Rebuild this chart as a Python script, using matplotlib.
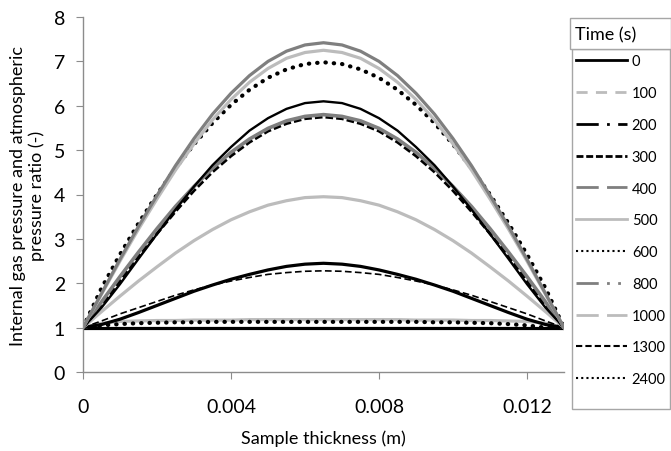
import numpy as np
import matplotlib
matplotlib.use("Agg")
import matplotlib.pyplot as plt
from matplotlib.lines import Line2D
from matplotlib.patches import Rectangle

plt.rcParams['font.family'] = ['Lato', 'DejaVu Sans']

# sample thickness (m)
thickness = [0.0, 0.0005, 0.001, 0.0015, 0.002, 0.0025, 0.003, 0.0035, 0.004,
             0.0045, 0.005, 0.0055, 0.006, 0.0065, 0.007, 0.0075, 0.008, 0.0085,
             0.009, 0.0095, 0.01, 0.0105, 0.011, 0.0115, 0.012, 0.0125, 0.013]

# pressure ratio for each time (s)
p_0 = [1.00, 1.00, 1.00, 1.00, 1.00, 1.00, 1.00, 1.00, 1.00, 1.00, 1.00, 1.00, 1.00, 1.00,
       1.00, 1.00, 1.00, 1.00, 1.00, 1.00, 1.00, 1.00, 1.00, 1.00, 1.00, 1.00, 1.00]
p_100 = [1.00, 1.10, 1.14, 1.15, 1.16, 1.16, 1.17, 1.17, 1.17, 1.18, 1.18, 1.18, 1.18, 1.18,
         1.18, 1.18, 1.18, 1.18, 1.17, 1.17, 1.17, 1.16, 1.16, 1.15, 1.14, 1.10, 1.00]
p_200 = [1.00, 1.07, 1.19, 1.34, 1.50, 1.66, 1.82, 1.96, 2.09, 2.20, 2.30, 2.38, 2.43, 2.45,
         2.43, 2.38, 2.30, 2.20, 2.09, 1.96, 1.82, 1.66, 1.50, 1.34, 1.19, 1.07, 1.00]
p_300 = [1.00, 1.51, 2.06, 2.60, 3.12, 3.62, 4.09, 4.51, 4.87, 5.18, 5.43, 5.60, 5.71, 5.75,
         5.71, 5.60, 5.43, 5.18, 4.87, 4.51, 4.09, 3.62, 3.12, 2.60, 2.06, 1.51, 1.00]
p_400 = [1.00, 1.58, 2.15, 2.70, 3.23, 3.73, 4.18, 4.59, 4.95, 5.25, 5.49, 5.66, 5.76, 5.80,
         5.76, 5.66, 5.49, 5.25, 4.95, 4.59, 4.18, 3.73, 3.23, 2.70, 2.15, 1.58, 1.00]
p_500 = [1.00, 1.75, 2.50, 3.22, 3.90, 4.55, 5.14, 5.68, 6.14, 6.53, 6.84, 7.07, 7.20, 7.25,
         7.20, 7.07, 6.84, 6.53, 6.14, 5.68, 5.14, 4.55, 3.90, 3.22, 2.50, 1.75, 1.00]
p_600 = [1.00, 1.89, 2.65, 3.35, 4.00, 4.59, 5.13, 5.61, 6.02, 6.36, 6.63, 6.82, 6.94, 6.98,
         6.94, 6.82, 6.63, 6.36, 6.02, 5.61, 5.13, 4.59, 4.00, 3.35, 2.65, 1.89, 1.00]
p_800 = [1.00, 1.77, 2.54, 3.28, 3.98, 4.65, 5.26, 5.81, 6.28, 6.68, 7.00, 7.23, 7.37, 7.42,
         7.37, 7.23, 7.00, 6.68, 6.28, 5.81, 5.26, 4.65, 3.98, 3.28, 2.54, 1.77, 1.00]
p_1000 = [1.00, 1.36, 1.71, 2.05, 2.37, 2.68, 2.96, 3.21, 3.43, 3.61, 3.76, 3.86, 3.93, 3.95,
          3.93, 3.86, 3.76, 3.61, 3.43, 3.21, 2.96, 2.68, 2.37, 2.05, 1.71, 1.36, 1.00]
p_1300 = [1.00, 1.15, 1.31, 1.45, 1.59, 1.73, 1.85, 1.96, 2.05, 2.13, 2.20, 2.24, 2.27, 2.28,
          2.27, 2.24, 2.20, 2.13, 2.05, 1.96, 1.85, 1.73, 1.59, 1.45, 1.31, 1.15, 1.00]
p_2400 = [1.00, 1.05, 1.08, 1.10, 1.11, 1.12, 1.12, 1.13, 1.13, 1.13, 1.13, 1.13, 1.13, 1.13,
          1.13, 1.13, 1.13, 1.13, 1.13, 1.12, 1.12, 1.11, 1.10, 1.08, 1.05, 1.00, 1.00]
# curve drawn in the chart that has no legend entry
p_extra = [1.00, 1.45, 1.98, 2.55, 3.11, 3.66, 4.18, 4.66, 5.07, 5.44, 5.72, 5.93, 6.06, 6.10,
           6.06, 5.93, 5.72, 5.44, 5.07, 4.66, 4.18, 3.66, 3.11, 2.55, 1.98, 1.45, 1.00]

times = ['0', '100', '200', '300', '400', '500', '600', '800', '1000', '1300', '2400']

BLACK = '#000000'
DARK = '#7f7f7f'
LIGHT = '#bcbcbc'
AXIS = '#8c8c8c'
FRAME = '#a6a6a6'
DOT = (0, (0.1, 1.9))

fig = plt.figure(figsize=(6.71, 4.52), dpi=100)
ax = fig.add_axes([83 / 671, 1 - 373 / 452, 481 / 671, 355 / 452])

# how the curves look in the chart
ax.plot(thickness, p_0, color=BLACK, lw=2.3, solid_joinstyle='round')
ax.plot(thickness, p_100, color=LIGHT, lw=2.3, solid_joinstyle='round')
ax.plot(thickness, p_2400, color=BLACK, lw=3.0, linestyle=DOT, dash_capstyle='round')
ax.plot(thickness, p_200, color=BLACK, lw=2.3, solid_joinstyle='round')
ax.plot(thickness, p_1300, color=BLACK, lw=1.2, linestyle=(0, (4, 2)))
ax.plot(thickness, p_1000, color=LIGHT, lw=2.3, solid_joinstyle='round')
ax.plot(thickness, p_300, color=BLACK, lw=2.2, linestyle=(0, (2.5, 1)))
ax.plot(thickness, p_400, color=DARK, lw=2.6, solid_joinstyle='round')
ax.plot(thickness, p_extra, color=BLACK, lw=1.7, solid_joinstyle='round')
ax.plot(thickness, p_600, color=BLACK, lw=3.0, linestyle=DOT, dash_capstyle='round')
ax.plot(thickness, p_500, color=LIGHT, lw=2.3, solid_joinstyle='round')
ax.plot(thickness, p_800, color=DARK, lw=2.3, solid_joinstyle='round')

ax.set_xlim(0, 0.013)
ax.set_ylim(0, 8)
ax.set_xticks([0, 0.004, 0.008, 0.012])
ax.set_xticklabels(['0', '0.004', '0.008', '0.012'])
ax.set_yticks(range(0, 9))
for side in ['top', 'right']:
    ax.spines[side].set_visible(False)
for side in ['left', 'bottom']:
    ax.spines[side].set_color(AXIS)
    ax.spines[side].set_linewidth(1.0)
ax.tick_params(axis='both', direction='out', length=5, color=AXIS, labelsize=14)
ax.tick_params(axis='x', pad=14)
ax.tick_params(axis='y', pad=8)
ax.set_xlabel('Sample thickness (m)', fontsize=13, labelpad=10)
ax.set_ylabel('Internal gas pressure and atmospheric\npressure ratio (-)', fontsize=13,
              labelpad=6, linespacing=1.2)

# legend entries, styled as in the reference key
legend_styles = [
    dict(color=BLACK, lw=2.0),
    dict(color=LIGHT, lw=2.0, linestyle=(0, (4, 3))),
    dict(color=BLACK, lw=2.0, linestyle=(0, (8, 3, 1, 3))),
    dict(color=BLACK, lw=2.0, linestyle=(0, (2.5, 1))),
    dict(color=DARK, lw=2.0, linestyle=(0, (8, 3))),
    dict(color=LIGHT, lw=2.0),
    dict(color=BLACK, lw=1.5, linestyle=(0, (1, 1.5))),
    dict(color=DARK, lw=2.0, linestyle=(0, (8, 3, 1, 3, 1, 3))),
    dict(color=LIGHT, lw=2.0, linestyle=(0, (8, 3))),
    dict(color=BLACK, lw=1.5, linestyle=(0, (3, 1.5))),
    dict(color=BLACK, lw=1.5, linestyle=(0, (1, 1.5))),
]
handles = [Line2D([], [], **s) for s in legend_styles]

# legend frame and the separate box holding the title
fig.patches.append(Rectangle((572 / 671, 1 - 410 / 452), 98 / 671, 360 / 452,
                             transform=fig.transFigure, facecolor='white',
                             edgecolor=FRAME, linewidth=1.0))
fig.patches.append(Rectangle((570 / 671, 1 - 50 / 452), 101 / 671, 31 / 452,
                             transform=fig.transFigure, facecolor='white',
                             edgecolor=FRAME, linewidth=1.0))
fig.text(575 / 671, 1 - 35 / 452, 'Time (s)', fontsize=13, va='center', ha='left')

fig.legend(handles, times, loc='upper left',
           bbox_to_anchor=(572 / 671, 1 - 51 / 452), borderaxespad=0,
           fontsize=10.5, handlelength=3.5, handletextpad=0.3,
           labelspacing=1.22, borderpad=0.3, frameon=False)

fig.savefig('out.png', dpi=100)
